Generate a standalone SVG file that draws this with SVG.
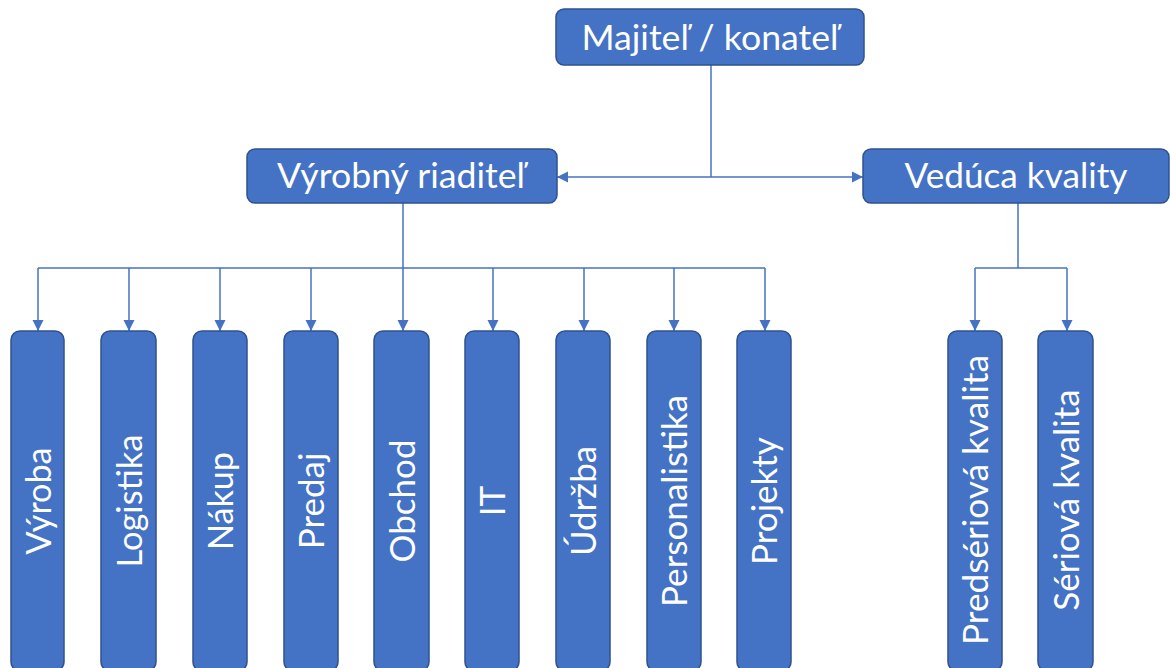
<svg xmlns="http://www.w3.org/2000/svg" width="1170" height="668" viewBox="0 0 1170 668">
  <style>
    .box { fill: #4472C4; stroke: #2F528F; stroke-width: 1.5; }
    .lbl { fill: #FFFFFF; font-family: Lato, "Open Sans", "Liberation Sans", sans-serif; font-size: 35px; text-anchor: middle; }
    .wire { fill: none; stroke: #4472C4; stroke-width: 1.5; }
  </style>
  <defs>
    <marker id="arrow" markerUnits="userSpaceOnUse" markerWidth="12" markerHeight="12" viewBox="0 0 12 12" refX="11" refY="6" orient="auto">
      <path d="M0,0.5 L11,6 L0,11.5 Z" fill="#4472C4"/>
    </marker>
  </defs>

  <rect width="1170" height="668" fill="#FFFFFF"/>

  <!-- connectors -->
  <g id="connectors" class="wire">
    <!-- owner to the two directors -->
    <path d="M711,65 V177"/>
    <path d="M711,177 H557" marker-end="url(#arrow)"/>
    <path d="M711,177 H863" marker-end="url(#arrow)"/>
    <!-- production director to departments -->
    <path d="M403,203 V268"/>
    <path d="M38,268 H765"/>
    <path d="M38,268 V331" marker-end="url(#arrow)"/>
    <path d="M129,268 V331" marker-end="url(#arrow)"/>
    <path d="M220,268 V331" marker-end="url(#arrow)"/>
    <path d="M311,268 V331" marker-end="url(#arrow)"/>
    <path d="M403,268 V331" marker-end="url(#arrow)"/>
    <path d="M493,268 V331" marker-end="url(#arrow)"/>
    <path d="M584,268 V331" marker-end="url(#arrow)"/>
    <path d="M674,268 V331" marker-end="url(#arrow)"/>
    <path d="M765,268 V331" marker-end="url(#arrow)"/>
    <!-- quality lead to quality teams -->
    <path d="M1018,203 V268"/>
    <path d="M975,268 H1067"/>
    <path d="M975,268 V331" marker-end="url(#arrow)"/>
    <path d="M1067,268 V331" marker-end="url(#arrow)"/>
  </g>

  <!-- top level -->
  <g id="majitel">
    <rect class="box" x="556" y="9" width="308" height="56" rx="8"/>
    <text class="lbl" x="710" y="50" textLength="257" lengthAdjust="spacingAndGlyphs">Majiteľ / konateľ</text>
  </g>

  <!-- second level -->
  <g id="vyrobny-riaditel">
    <rect class="box" x="247" y="149" width="310" height="54" rx="8"/>
    <text class="lbl" x="401" y="188" textLength="248" lengthAdjust="spacingAndGlyphs">Výrobný riaditeľ</text>
  </g>
  <g id="veduca-kvality">
    <rect class="box" x="863" y="149" width="306" height="54" rx="8"/>
    <text class="lbl" x="1016" y="188" textLength="223" lengthAdjust="spacingAndGlyphs">Vedúca kvality</text>
  </g>

  <!-- departments (vertical labels) -->
  <g id="vyroba">
    <rect class="box" x="11" y="331" width="53" height="340" rx="9"/>
    <text class="lbl" transform="translate(51,501) rotate(-90)" textLength="107" lengthAdjust="spacingAndGlyphs">Výroba</text>
  </g>
  <g id="logistika">
    <rect class="box" x="101" y="331" width="55" height="340" rx="9"/>
    <text class="lbl" transform="translate(142,501) rotate(-90)" textLength="133" lengthAdjust="spacingAndGlyphs">Logistika</text>
  </g>
  <g id="nakup">
    <rect class="box" x="193" y="331" width="54" height="340" rx="9"/>
    <text class="lbl" transform="translate(233,501) rotate(-90)" textLength="98" lengthAdjust="spacingAndGlyphs">Nákup</text>
  </g>
  <g id="predaj">
    <rect class="box" x="284" y="331" width="54" height="340" rx="9"/>
    <text class="lbl" transform="translate(324,501) rotate(-90)">Predaj</text>
  </g>
  <g id="obchod">
    <rect class="box" x="374" y="331" width="55" height="340" rx="9"/>
    <text class="lbl" transform="translate(415,501) rotate(-90)">Obchod</text>
  </g>
  <g id="it">
    <rect class="box" x="465" y="331" width="54" height="340" rx="9"/>
    <text class="lbl" transform="translate(505,501) rotate(-90)">IT</text>
  </g>
  <g id="udrzba">
    <rect class="box" x="556" y="331" width="54" height="340" rx="9"/>
    <text class="lbl" transform="translate(596,501) rotate(-90)">Údržba</text>
  </g>
  <g id="personalistika">
    <rect class="box" x="647" y="331" width="54" height="340" rx="9"/>
    <text class="lbl" transform="translate(687,501) rotate(-90)" textLength="212" lengthAdjust="spacingAndGlyphs">Personalistika</text>
  </g>
  <g id="projekty">
    <rect class="box" x="737" y="331" width="54" height="340" rx="9"/>
    <text class="lbl" transform="translate(777,501) rotate(-90)">Projekty</text>
  </g>

  <!-- quality teams -->
  <g id="predseriova-kvalita">
    <rect class="box" x="948" y="331" width="54" height="340" rx="9"/>
    <text class="lbl" transform="translate(988,500) rotate(-90)" textLength="290" lengthAdjust="spacingAndGlyphs">Predsériová kvalita</text>
  </g>
  <g id="seriova-kvalita">
    <rect class="box" x="1038" y="331" width="55" height="340" rx="9"/>
    <text class="lbl" transform="translate(1079,500) rotate(-90)">Sériová kvalita</text>
  </g>
</svg>
